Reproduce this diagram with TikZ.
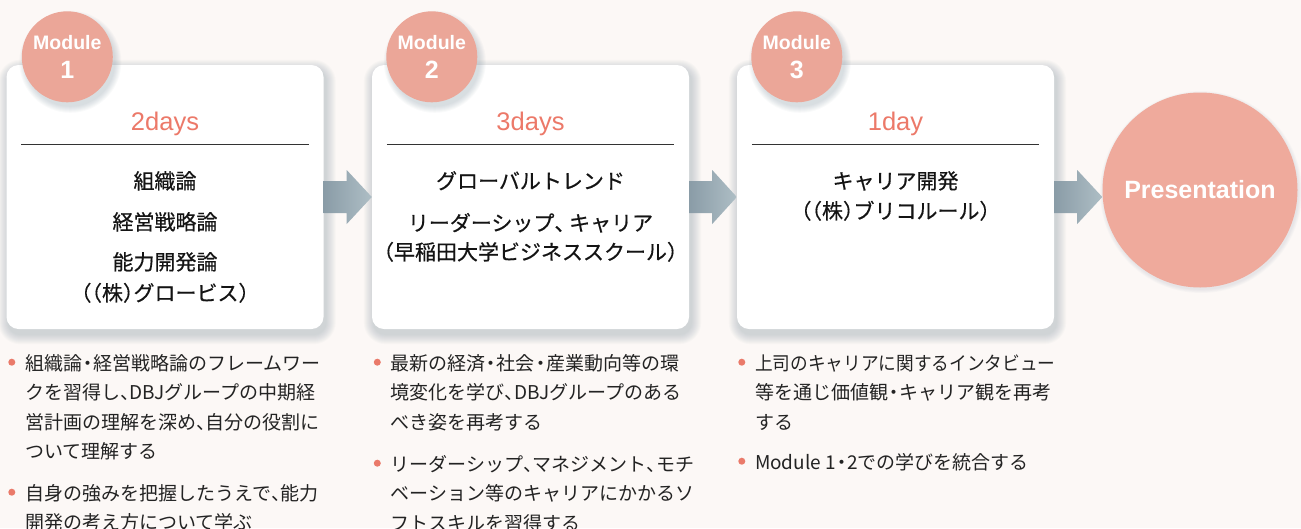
\documentclass[tikz,border=0pt]{standalone}
\usepackage{fontspec}
\setmainfont{Liberation Sans}
\newfontfamily\jp{Noto Sans CJK JP}
\newfontfamily\jpb{Noto Sans CJK JP}[FakeBold=0.5]
\usetikzlibrary{calc}
\pgfdeclarelayer{bglayer}
\pgfsetlayers{bglayer,main}
\definecolor{bgc}{RGB}{252,248,246}
\definecolor{shadowc}{RGB}{120,140,155}
\definecolor{modc}{RGB}{235,166,152}
\definecolor{presc}{RGB}{239,170,156}
\definecolor{dayc}{RGB}{236,121,105}
\definecolor{dotc}{RGB}{234,122,106}
\definecolor{arrowL}{RGB}{138,156,167}
\definecolor{arrowR}{RGB}{174,190,197}
\definecolor{txt}{RGB}{20,20,20}
\definecolor{btxt}{RGB}{35,35,35}
\newcommand{\hc}{\makebox[0.5em][l]{、}}
\newcommand{\nd}{\makebox[0.6em][c]{・}}
\newcommand{\lp}{\makebox[0.5em][r]{（}}
\newcommand{\rp}{\makebox[0.5em][l]{）}}
\begin{document}
\begin{tikzpicture}[x=1pt,y=-1pt,
 card/.style={draw=none, fill=white, rounded corners=12pt, minimum width=317pt, minimum height=264pt, inner sep=0pt},
 modcirc/.style={circle, fill=modc, minimum size=91pt, inner sep=0pt},
 modlabel/.style={font=\bfseries\fontsize{19.5}{19.5}\selectfont, text=white, anchor=base, inner sep=0pt},
 modnum/.style={font=\bfseries\fontsize{25}{25}\selectfont, text=white, anchor=base, inner sep=0pt},
 days/.style={font=\fontsize{25.5}{25.5}\selectfont, text=dayc, anchor=base, inner sep=0pt},
 ttl/.style={font=\jpb\fontsize{21}{21}\selectfont, text=txt, anchor=base, inner sep=0pt},
 divider/.style={draw=black!80, line width=0.9pt},
 btext/.style={font=\jp\fontsize{19}{29.5}\selectfont, text=btxt, anchor=base west, inner sep=0pt},
 bdot/.style={fill=dotc},
 blockarrow/.style={left color=arrowL, right color=arrowR},
 pres/.style={circle, fill=presc, minimum size=195pt, inner sep=0pt, text=white, font=\bfseries\fontsize{25}{25}\selectfont}
]
\clip (0,0) rectangle (1301,528);

% cards
\node[card] (b1) at (165,197) {};
\node[card] (b2) at (530.5,197) {};
\node[card] (b3) at (895.5,197) {};

\begin{pgfonlayer}{bglayer}
\fill[bgc] (0,0) rectangle (1301,528);
\foreach \n in {b1,b2,b3}{
 \foreach \k [evaluate=\k as \r using 12+\k] in {1,...,10}{
  \fill[shadowc, opacity=0.035, rounded corners=\r pt] ($(\n.north west)+(-\k+2,-\k+5)$) rectangle ($(\n.south east)+(\k+2,\k+5)$);
 }}
\end{pgfonlayer}

% module circles
\coordinate (c1) at ($(b1.north west)+(61,-8)$);
\coordinate (c2) at ($(b2.north west)+(60,-8)$);
\coordinate (c3) at ($(b3.north west)+(60,-8)$);
\foreach \c in {c1,c2,c3}{
 \foreach \k [evaluate=\k as \r using 44+\k] in {1,...,7}{
  \fill[shadowc, opacity=0.045] ($(\c)+(3,5)$) circle[radius=\r pt];
 }}
\node[modcirc] (m1) at (c1) {};
\node[modcirc] (m2) at (c2) {};
\node[modcirc] (m3) at (c3) {};
\node[modlabel] (m1a) at ($(m1)+(0,-7.5)$) {Module};
\node[modlabel] (m2a) at ($(m2)+(0,-7.5)$) {Module};
\node[modlabel] (m3a) at ($(m3)+(0,-7.5)$) {Module};
\node[modnum] (m1b) at ($(m1)+(0,22)$) {1};
\node[modnum] (m2b) at ($(m2)+(0,22)$) {2};
\node[modnum] (m3b) at ($(m3)+(0,22)$) {3};

% days and dividers
\node[days] (d1) at ($(b1.north)+(0,66)$) {2days};
\node[days] (d2) at ($(b2.north)+(0,66)$) {3days};
\node[days] (d3) at ($(b3.north)+(0,66)$) {1day};
\foreach \n in {b1,b2,b3}{
 \draw[divider] ($(\n.north west)+(15,80)$) -- ($(\n.north east)+(-15,80)$);
}

% titles
\node[ttl] (t1a) at ($(b1.north)+(0,124)$) {組織論};
\node[ttl] (t1b) at ($(b1.north)+(0,165)$) {経営戦略論};
\node[ttl] (t1c) at ($(b1.north)+(0,205)$) {能力開発論};
\node[ttl] (t1d) at ($(b1.north)+(0,236)$) {（\lp 株\rp グロービス）};
\node[ttl] (t2a) at ($(b2.north)+(0,124)$) {グローバルトレンド};
\node[ttl] (t2b) at ($(b2.north)+(0,166)$) {リーダーシップ\hc\hspace{0.2em}キャリア};
\node[ttl] (t2c) at ($(b2.north)+(0,195)$) {（早稲田大学ビジネススクール）};
\node[ttl] (t3a) at ($(b3.north)+(0,124)$) {キャリア開発};
\node[ttl] (t3b) at ($(b3.north)+(0,154)$) {（\lp 株\rp ブリコルール）};

% presentation
\foreach \k [evaluate=\k as \r using 97+0.8*\k] in {1,...,5}{
 \fill[shadowc, opacity=0.03] (1201,192) circle[radius=\r pt];
}
\node[pres] (pres) at (1200,190) {Presentation};

% arrows
\foreach \a/\b in {b1/b2,b2/b3,b3/pres}{
 \shade[blockarrow] let \p1=(\a.east), \p2=(\b.west) in
  (\x1,\y1+16pt) -- (\x1+23pt,\y1+16pt) -- (\x1+23pt,\y1+27pt) -- (\x2,\y1)
  -- (\x1+23pt,\y1-27pt) -- (\x1+23pt,\y1-16pt) -- (\x1,\y1-16pt) -- cycle;
}

% bullets
\node[btext] (u11) at ($(b1.south west)+(18.5,41)$) {\parbox[t]{330pt}{\raggedright 組織論\nd 経営戦略論のフレームワー\\クを習得し\hc DBJグループの中期経\\営計画の理解を深め\hc 自分の役割に\\ついて理解する}};
\node[btext] (u12) at ($(b1.south west)+(18.5,171)$) {\parbox[t]{330pt}{\raggedright 自身の強みを把握したうえで\hc 能力\\開発の考え方について学ぶ}};
\node[btext] (u21) at ($(b2.south west)+(18.5,41)$) {\parbox[t]{330pt}{\raggedright 最新の経済\nd 社会\nd 産業動向等の環\\境変化を学び\hc DBJグループのある\\べき姿を再考する}};
\node[btext] (u22) at ($(b2.south west)+(18.5,142)$) {\parbox[t]{330pt}{\raggedright リーダーシップ\hc マネジメント\hc モチ\\ベーション等のキャリアにかかるソ\\フトスキルを習得する}};
\node[btext] (u31) at ($(b3.south west)+(18,41)$) {\parbox[t]{330pt}{\raggedright \scalebox{0.93}[1]{上司のキャリアに関するインタビュー}\\等を通じ価値観\nd キャリア観を再考\\する}};
\node[btext] (u32) at ($(b3.south west)+(18,140)$) {\parbox[t]{330pt}{\raggedright Module 1\nd 2での学びを統合する}};
\foreach \u in {u11,u12,u21,u22,u31,u32}{
 \fill[bdot] ($(\u.base west)+(-13,-8)$) circle[radius=3.5pt];
}
\end{tikzpicture}
\end{document}
